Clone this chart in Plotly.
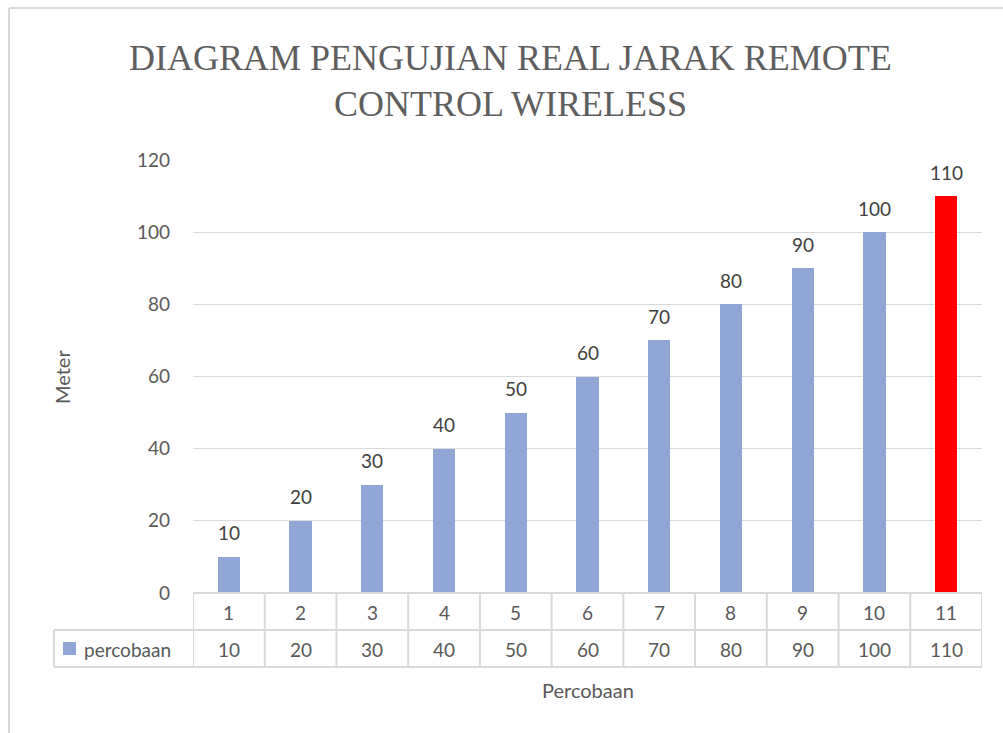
import plotly.graph_objects as go

# ---- data ----
categories = ["1", "2", "3", "4", "5", "6", "7", "8", "9", "10", "11"]
values = [10, 20, 30, 40, 50, 60, 70, 80, 90, 100, 110]
series_name = "percobaan"
bar_colors = ["#8FA6D6"] * 10 + ["#FF0000"]
title_lines = ["DIAGRAM PENGUJIAN REAL JARAK REMOTE", "CONTROL WIRELESS"]
x_title = "Percobaan"
y_title = "Meter"

W, H = 1003, 733
def px(x):
    return x / W
def py(y):
    return 1 - y / H

x_positions = list(range(1, len(categories) + 1))

fig = go.Figure()
fig.add_trace(go.Bar(
    x=x_positions, y=values, width=0.31,
    marker=dict(color=bar_colors, line=dict(width=0)),
    cliponaxis=False, showlegend=False, hoverinfo="x+y",
))

grid = "#D9D9D9"
font_fam = "Lato, Open Sans, sans-serif"
label_col = "#595959"

fig.update_layout(
    width=W, height=H, margin=dict(l=0, r=0, t=0, b=0, pad=0, autoexpand=False),
    plot_bgcolor="white", paper_bgcolor="white",
    bargap=0,
    xaxis=dict(domain=[px(193), px(982)], range=[0.5, len(categories) + 0.5], automargin=False,
               showticklabels=False, showgrid=False, zeroline=False, ticks=""),
    yaxis=dict(domain=[py(593), py(160)], range=[0, 120], dtick=20, automargin=False,
               showgrid=True, gridcolor=grid, gridwidth=1, zeroline=False,
               ticks="", ticklabelstandoff=22,
               tickfont=dict(family=font_fam, size=19, color=label_col)),
    font=dict(family=font_fam),
)

shapes = []
line = dict(color=grid, width=2)
# outer chart border
shapes.append(dict(type="line", xref="paper", yref="paper", x0=px(9), x1=1.01, y0=py(8), y1=py(8), line=line))
shapes.append(dict(type="line", xref="paper", yref="paper", x0=px(9), x1=px(9), y0=py(8), y1=-0.01, line=line))
# table horizontal lines
n = len(categories)
shapes.append(dict(type="line", xref="x", yref="paper", x0=0.5, x1=n + 0.5, y0=py(593), y1=py(593), line=line))
for yy in (630, 667):
    shapes.append(dict(type="line", xref="paper", yref="paper", x0=px(54), x1=px(982), y0=py(yy), y1=py(yy), line=line))
# table vertical lines
for i in range(n + 1):
    shapes.append(dict(type="line", xref="x", yref="paper", x0=i + 0.5, x1=i + 0.5, y0=py(593), y1=py(667), line=line))
shapes.append(dict(type="line", xref="paper", yref="paper", x0=px(54), x1=px(54), y0=py(630), y1=py(667), line=line))
# legend key
shapes.append(dict(type="rect", xref="paper", yref="paper", x0=px(63), x1=px(76), y0=py(655), y1=py(642),
                   line=dict(width=0), fillcolor=bar_colors[0]))

annotations = []
# data labels above bars
for xp, v in zip(x_positions, values):
    annotations.append(dict(x=xp, y=v, xref="x", yref="y", text=str(v), showarrow=False, yshift=24,
                            font=dict(family=font_fam, size=19, color="#404040"),
                            xanchor="center", yanchor="middle"))
cell_font = dict(family=font_fam, size=19, color=label_col)
for xp, c, v in zip(x_positions, categories, values):
    annotations.append(dict(x=xp, y=py(612), xref="x", yref="paper", text=c, showarrow=False, font=cell_font,
                            xanchor="center", yanchor="middle"))
    annotations.append(dict(x=xp, y=py(649), xref="x", yref="paper", text=str(v), showarrow=False, font=cell_font,
                            xanchor="center", yanchor="middle"))
annotations.append(dict(x=px(82), y=py(649), xref="paper", yref="paper", text=series_name, showarrow=False,
                        font=cell_font, xanchor="left", yanchor="middle"))
annotations.append(dict(x=px(588), y=py(690), xref="paper", yref="paper", text=x_title, showarrow=False,
                        font=dict(family=font_fam, size=20, color=label_col), xanchor="center", yanchor="middle"))
annotations.append(dict(x=px(62), y=py(377), xref="paper", yref="paper", text=y_title, showarrow=False, textangle=-90,
                        font=dict(family=font_fam, size=20, color=label_col), xanchor="center", yanchor="middle"))
for i, t in enumerate(title_lines):
    annotations.append(dict(x=px(511), y=py(58 + 46 * i), xref="paper", yref="paper", text=t, showarrow=False,
                            font=dict(family="Liberation Serif, DejaVu Serif, serif", size=36, color="#5E5E5E"),
                            xanchor="center", yanchor="middle"))

fig.update_layout(shapes=shapes, annotations=annotations)

fig.write_html("out.html", config={"displayModeBar": False},
               post_script="document.body.style.margin='0';")
